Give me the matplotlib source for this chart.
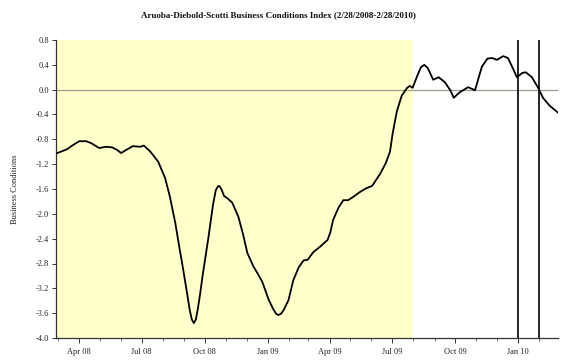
import matplotlib
matplotlib.use("Agg")
import matplotlib.pyplot as plt
import matplotlib.dates as mdates
import numpy as np
import pandas as pd

plt.rcParams['font.family'] = ['Liberation Serif', 'DejaVu Serif']

dates = [
    "2008-02-27", "2008-03-14", "2008-03-23", "2008-04-01", "2008-04-11", "2008-04-18",
    "2008-04-30", "2008-05-10", "2008-05-19", "2008-05-26", "2008-06-01", "2008-06-10",
    "2008-06-18", "2008-06-29", "2008-07-04", "2008-07-13", "2008-07-25", "2008-08-04",
    "2008-08-11", "2008-08-19", "2008-08-25", "2008-08-29", "2008-09-05", "2008-09-09",
    "2008-09-12", "2008-09-15", "2008-09-18", "2008-09-21", "2008-09-24", "2008-09-28",
    "2008-10-06", "2008-10-13", "2008-10-17", "2008-10-20", "2008-10-22", "2008-10-25",
    "2008-10-29", "2008-11-03", "2008-11-10", "2008-11-19", "2008-11-26", "2008-12-02",
    "2008-12-11", "2008-12-18", "2008-12-24", "2009-01-02", "2009-01-09", "2009-01-13",
    "2009-01-16", "2009-01-20", "2009-01-24", "2009-01-31", "2009-02-07", "2009-02-15",
    "2009-02-22", "2009-02-28", "2009-03-08", "2009-03-18", "2009-03-29", "2009-04-02",
    "2009-04-06", "2009-04-14", "2009-04-21", "2009-04-28", "2009-05-05", "2009-05-15",
    "2009-05-24", "2009-06-02", "2009-06-14", "2009-06-22", "2009-06-28", "2009-07-02",
    "2009-07-08", "2009-07-15", "2009-07-23", "2009-07-27", "2009-07-31", "2009-08-06",
    "2009-08-12", "2009-08-17", "2009-08-22", "2009-08-30", "2009-09-07", "2009-09-16",
    "2009-09-24", "2009-09-29", "2009-10-08", "2009-10-20", "2009-10-30", "2009-11-09",
    "2009-11-17", "2009-11-24", "2009-12-01", "2009-12-10", "2009-12-17", "2009-12-24",
    "2009-12-30", "2010-01-07", "2010-01-12", "2010-01-21", "2010-01-30", "2010-02-06",
    "2010-02-16", "2010-02-28",
]
values = [
    -1.03, -0.96, -0.89, -0.83, -0.83, -0.86,
    -0.94, -0.92, -0.93, -0.97, -1.02, -0.96,
    -0.91, -0.92, -0.90, -0.99, -1.16, -1.42,
    -1.72, -2.15, -2.55, -2.80, -3.27, -3.55,
    -3.70, -3.76, -3.70, -3.52, -3.30, -2.98,
    -2.40, -1.85, -1.62, -1.56, -1.55, -1.60,
    -1.71, -1.75, -1.82, -2.05, -2.34, -2.63,
    -2.85, -2.98, -3.10, -3.38, -3.54, -3.61,
    -3.63, -3.61, -3.55, -3.39, -3.07, -2.86,
    -2.75, -2.74, -2.62, -2.53, -2.42, -2.30,
    -2.10, -1.90, -1.78, -1.78, -1.73, -1.65,
    -1.59, -1.55, -1.35, -1.18, -1.00, -0.70,
    -0.35, -0.10, 0.03, 0.06, 0.03, 0.20,
    0.36, 0.40, 0.35, 0.16, 0.20, 0.12,
    -0.01, -0.13, -0.04, 0.04, -0.01, 0.37,
    0.50, 0.51, 0.48, 0.54, 0.51, 0.35,
    0.20, 0.27, 0.28, 0.20, 0.03, -0.13,
    -0.26, -0.37,
]
shade_start = "2008-02-27"
shade_end = "2009-07-31"
vlines = ["2010-01-01", "2010-02-01"]
x_range = ["2008-02-27", "2010-02-28"]
y_ticks = [0.8, 0.4, 0.0, -0.4, -0.8, -1.2, -1.6, -2.0, -2.4, -2.8, -3.2, -3.6, -4.0]

title = "Aruoba-Diebold-Scotti Business Conditions Index (2/28/2008-2/28/2010)"
ylabel = "Business Conditions"

x = pd.to_datetime(dates)

fig = plt.figure(figsize=(5.75, 3.62), dpi=100)
ax = fig.add_axes([56/575, 1 - 338/362, (558-56)/575, (338-40)/362])

ax.axvspan(pd.Timestamp(shade_start), pd.Timestamp(shade_end), color='#ffffcc', lw=0, zorder=0)
ax.axhline(0, color='#a09a8c', lw=0.9, zorder=1)
for v in vlines:
    ax.axvline(pd.Timestamp(v), color='black', lw=1.2, zorder=3)
ax.plot(x, values, color='black', lw=1.3, zorder=4, solid_joinstyle='round')

ax.set_xlim(pd.Timestamp(x_range[0]), pd.Timestamp(x_range[1]))
ax.set_ylim(-4.0, 0.8)
ax.set_yticks(y_ticks)
ax.set_yticklabels([f"{t:.1f}" for t in y_ticks])

ax.xaxis.set_major_locator(mdates.MonthLocator(bymonth=[1, 4, 7, 10]))
ax.xaxis.set_major_formatter(mdates.DateFormatter('%b %y'))
ax.xaxis.set_minor_locator(mdates.MonthLocator())

for s in ['top', 'right']:
    ax.spines[s].set_visible(False)
for s in ['left', 'bottom']:
    ax.spines[s].set_color('#333333')
    ax.spines[s].set_linewidth(0.9)

ax.tick_params(axis='both', which='major', labelsize=6, direction='out', length=3, width=0.7, colors='#333333', pad=2)
ax.tick_params(axis='x', which='major', length=3.5, pad=4)
ax.tick_params(axis='x', which='minor', length=2, width=0.6, colors='#555555')
for lbl in ax.get_xticklabels() + ax.get_yticklabels():
    lbl.set_color('#222222')

fig.text(15/575, 1 - 189/362, ylabel, rotation=90, ha='center', va='center', fontsize=6, color='#222222')
fig.text(0.485, 1 - 15/362, title, ha='center', va='center', fontsize=6.5, fontweight='bold', color='#111111')

fig.savefig('out.png', dpi=100)
